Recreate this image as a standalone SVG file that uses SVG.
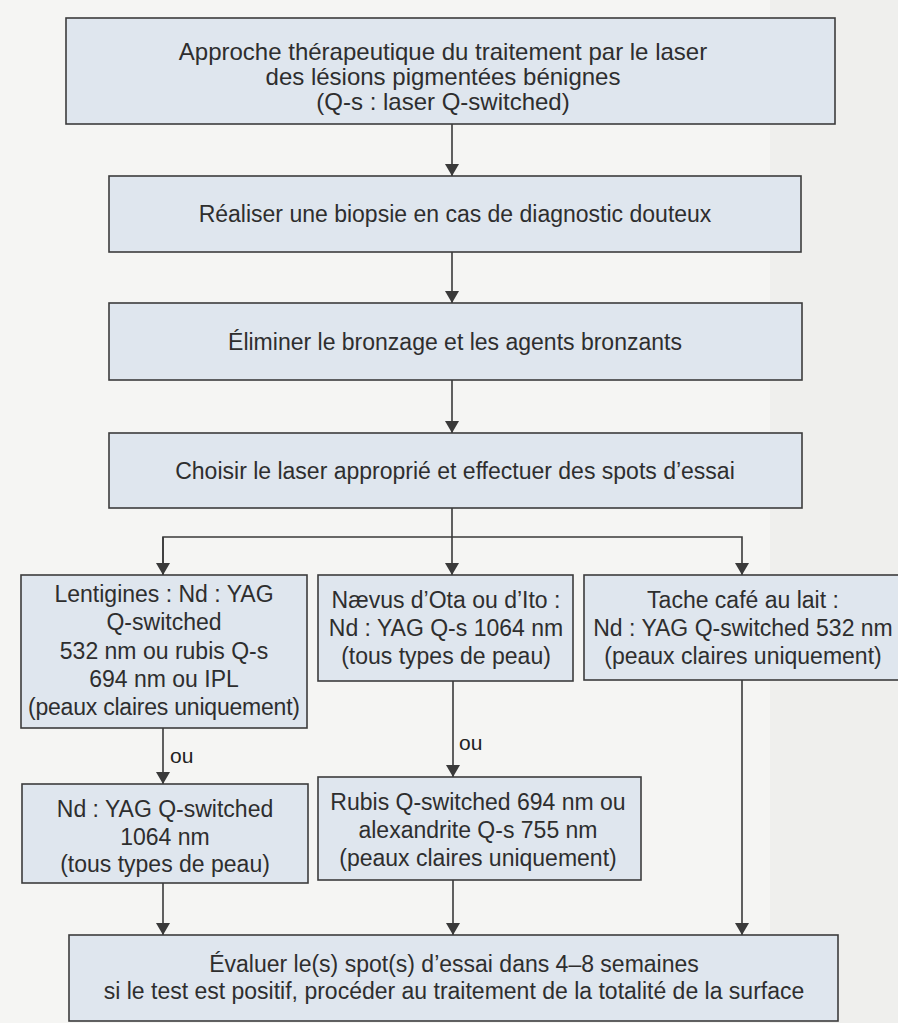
<svg xmlns="http://www.w3.org/2000/svg" width="898" height="1023" viewBox="0 0 898 1023">
<style>
.box{fill:#dfe6ee;stroke:#3c3c3c;stroke-width:1.6}
.t{font-family:"Liberation Sans",Arial,sans-serif;font-size:23px;fill:#2e2e2e;text-anchor:middle}
.big{font-size:24px}
.ou{font-family:"Liberation Sans",Arial,sans-serif;font-size:21px;fill:#222}
.c{stroke:#3a3a3a;stroke-width:1.6;fill:none}
</style>
<defs>
<marker id="ah" markerUnits="userSpaceOnUse" markerWidth="14" markerHeight="14" viewBox="0 0 12 14" refX="12" refY="7" orient="auto">
<path d="M0,0 L12,7 L0,14 z" fill="#3a3a3a"/>
</marker>
</defs>
<rect width="898" height="1023" fill="#f5f5f3"/>
<rect x="770" y="0" width="128" height="1023" fill="#efefed"/>

<g id="connectors">
<line class="c" x1="452" y1="124" x2="452" y2="176" marker-end="url(#ah)"/>
<line class="c" x1="452" y1="252" x2="452" y2="303" marker-end="url(#ah)"/>
<line class="c" x1="452" y1="380" x2="452" y2="433" marker-end="url(#ah)"/>
<polyline class="c" points="452,508 452,537"/>
<polyline class="c" points="163,575 163,537 742,537 742,575" marker-end="url(#ah)"/>
<line class="c" x1="163" y1="537" x2="163" y2="575" marker-end="url(#ah)"/>
<line class="c" x1="452" y1="537" x2="452" y2="575" marker-end="url(#ah)"/>
<line class="c" x1="163" y1="728" x2="163" y2="784" marker-end="url(#ah)"/>
<text class="ou" x="170" y="763">ou</text>
<line class="c" x1="453" y1="681" x2="453" y2="777" marker-end="url(#ah)"/>
<text class="ou" x="459" y="750">ou</text>
<line class="c" x1="163" y1="883" x2="163" y2="935" marker-end="url(#ah)"/>
<line class="c" x1="453" y1="880" x2="453" y2="935" marker-end="url(#ah)"/>
<line class="c" x1="742" y1="680" x2="742" y2="935" marker-end="url(#ah)"/>
</g>

<g id="n1">
<rect class="box" x="66" y="18" width="769" height="106"/>
<text class="t big" x="443" y="60">Approche thérapeutique du traitement par le laser</text>
<text class="t big" x="443" y="85">des lésions pigmentées bénignes</text>
<text class="t big" x="443" y="110">(Q-s : laser Q-switched)</text>
</g>
<g id="n2">
<rect class="box" x="109" y="176" width="692" height="76"/>
<text class="t" x="455" y="222">Réaliser une biopsie en cas de diagnostic douteux</text>
</g>
<g id="n3">
<rect class="box" x="109" y="303" width="693" height="77"/>
<text class="t" x="455" y="350">Éliminer le bronzage et les agents bronzants</text>
</g>
<g id="n4">
<rect class="box" x="109" y="433" width="693" height="75"/>
<text class="t" x="455" y="479">Choisir le laser approprié et effectuer des spots d’essai</text>
</g>
<g id="n5">
<rect class="box" x="21" y="575" width="286" height="153"/>
<text class="t" x="164" y="602">Lentigines : Nd : YAG</text>
<text class="t" x="164" y="630">Q-switched</text>
<text class="t" x="164" y="659">532 nm ou rubis Q-s</text>
<text class="t" x="164" y="687">694 nm ou IPL</text>
<text class="t" x="164" y="715" textLength="272">(peaux claires uniquement)</text>
</g>
<g id="n6">
<rect class="box" x="318" y="575" width="255" height="106"/>
<text class="t" x="446" y="608">Nævus d’Ota ou d’Ito :</text>
<text class="t" x="446" y="636">Nd : YAG Q-s 1064 nm</text>
<text class="t" x="446" y="664">(tous types de peau)</text>
</g>
<g id="n7">
<rect class="box" x="584" y="575" width="318" height="105"/>
<text class="t" x="743" y="608">Tache café au lait :</text>
<text class="t" x="743" y="636">Nd : YAG Q-switched 532 nm</text>
<text class="t" x="743" y="664">(peaux claires uniquement)</text>
</g>
<g id="n8">
<rect class="box" x="22" y="784" width="286" height="99"/>
<text class="t" x="165" y="817">Nd : YAG Q-switched</text>
<text class="t" x="165" y="845">1064 nm</text>
<text class="t" x="165" y="872">(tous types de peau)</text>
</g>
<g id="n9">
<rect class="box" x="318" y="777" width="323" height="103"/>
<text class="t" x="478" y="810">Rubis Q-switched 694 nm ou</text>
<text class="t" x="478" y="838">alexandrite Q-s 755 nm</text>
<text class="t" x="478" y="866">(peaux claires uniquement)</text>
</g>
<g id="n10">
<rect class="box" x="69" y="935" width="769" height="86"/>
<text class="t" x="454" y="972">Évaluer le(s) spot(s) d’essai dans 4–8 semaines</text>
<text class="t" x="454" y="999">si le test est positif, procéder au traitement de la totalité de la surface</text>
</g>
</svg>
